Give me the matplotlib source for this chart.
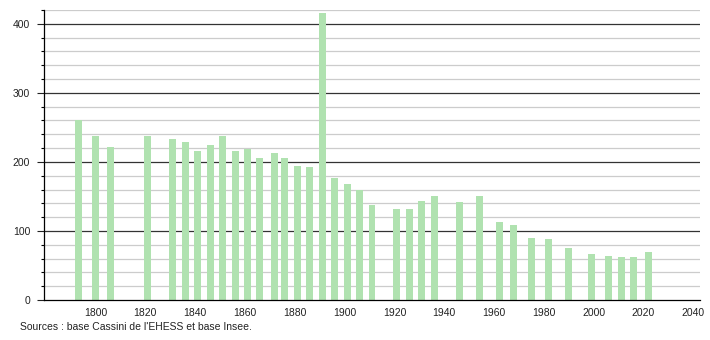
import matplotlib
matplotlib.use("Agg")
import matplotlib.pyplot as plt

years = [1793, 1800, 1806, 1821, 1831, 1836, 1841, 1846, 1851, 1856, 1861, 1866,
         1872, 1876, 1881, 1886, 1891, 1896, 1901, 1906, 1911, 1921, 1926, 1931,
         1936, 1946, 1954, 1962, 1968, 1975, 1982, 1990, 1999, 2006, 2011, 2016, 2022]
population = [261, 238, 222, 238, 233, 229, 216, 225, 238, 216, 218, 206,
              213, 206, 194, 193, 415, 176, 168, 159, 138, 132, 132, 143,
              151, 142, 151, 113, 109, 90, 88, 75, 67, 64, 62, 62, 69]
x_ticks = list(range(1800, 2041, 20))
y_major = [0, 100, 200, 300, 400]
y_minor = list(range(20, 421, 20))
source_text = "Sources : base Cassini de l'EHESS et base Insee."

plt.rcParams['font.family'] = ['Liberation Sans', 'DejaVu Sans']

fig = plt.figure(figsize=(7.1, 3.4), dpi=100)
ax = fig.add_axes([44/710, 40/340, 656/710, 290/340])
ax.set_xlim(1779.3, 2042.7)
ax.set_ylim(0, 420)

for v in y_minor:
    if v % 100 != 0:
        ax.axhline(v, color='#cccccc', lw=0.9, zorder=0)
for v in y_major[1:]:
    ax.axhline(v, color='#333333', lw=0.9, zorder=0)

ax.bar(years, population, width=2.8, color='#b0e2b0', zorder=2)

for s in ['top', 'right']:
    ax.spines[s].set_visible(False)
ax.spines['left'].set_color('black')
ax.spines['bottom'].set_color('black')
ax.spines['left'].set_linewidth(0.9)
ax.spines['bottom'].set_linewidth(0.9)

ax.set_yticks(y_major)
ax.set_yticks(y_minor, minor=True)
ax.tick_params(axis='y', which='major', length=5, width=0.8, labelsize=7.5, pad=5, colors='#222222')
ax.tick_params(axis='y', which='minor', length=2.5, width=0.8)
ax.set_xticks(x_ticks)
ax.tick_params(axis='x', length=0, labelsize=7.5, pad=6, colors='#222222')

fig.text(20/710, 1 - 327/340, source_text, fontsize=7.5, va='center', ha='left', color='#222222')

fig.savefig('out.png', dpi=100)
